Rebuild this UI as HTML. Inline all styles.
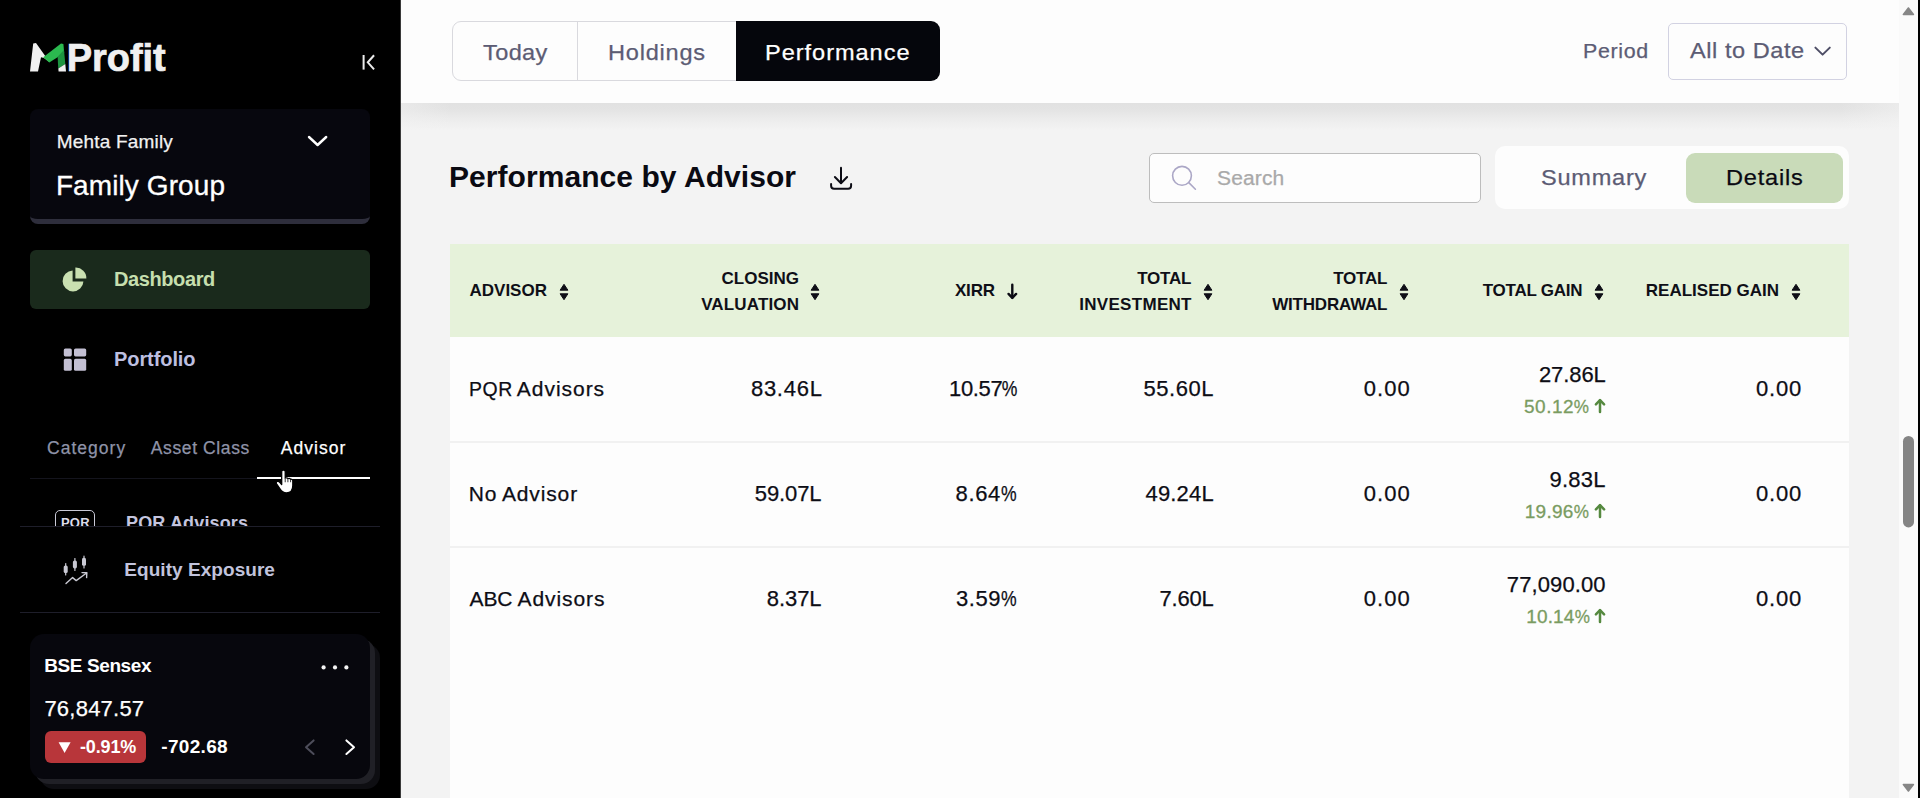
<!DOCTYPE html>
<html lang="en">
<head>
<meta charset="utf-8">
<title>MProfit - Performance by Advisor</title>
<style>
*{box-sizing:border-box;margin:0;padding:0}
html,body{width:1920px;height:798px;overflow:hidden;background:#f3f3f3}
body{font-family:"Liberation Sans",sans-serif;position:relative;color:#0b0b12}
.abs{position:absolute}
.t{position:absolute;white-space:nowrap;line-height:1}
.r{text-align:right}
.th{font-size:17px;font-weight:700;color:#0f0f17}
.td{font-size:21px;color:#0d0d15;-webkit-text-stroke:.25px #0d0d15}
.pc{font-size:19px;color:#7a9c61;-webkit-text-stroke:.3px #7a9c61}
.ps{display:inline-block;transform:scaleX(.8);transform-origin:100% 50%;margin-left:-3.9px}
.pp{display:inline-block;transform:scaleX(.9);transform-origin:100% 50%;margin-left:-1.7px}
.nm{font-size:22px}
/* ---------- sidebar ---------- */
#side{position:absolute;left:0;top:0;width:401px;height:798px;background:#000;border-right:1px solid #3a3a3a;overflow:hidden}
#main{position:absolute;left:0;top:0;width:1899px;height:798px;background:#f3f3f3;overflow:hidden}
#hdr{position:absolute;left:401px;top:0;width:1498px;height:103px;background:#fdfdfd}
#sb{position:absolute;left:1899px;top:0;width:19px;height:798px;background:#fafafa}
#edge{position:absolute;left:1918px;top:0;width:2px;height:798px;background:#000}
</style>
</head>
<body>
<div id="main">
<div id="hdr"></div>
<div class="abs" style="left:401px;top:103px;width:1498px;height:27px;background:linear-gradient(#e1e1e1 0,#e3e3e3 22%,#ececec 60%,#f3f3f3 100%)"></div>
<div class="abs" style="left:401px;top:103px;width:50px;height:27px;background:linear-gradient(90deg,rgba(243,243,243,.45),rgba(243,243,243,0))"></div>
<div class="abs" style="left:1840px;top:103px;width:59px;height:27px;background:linear-gradient(90deg,rgba(243,243,243,0),rgba(243,243,243,.55))"></div>
<!-- tab group -->
<div class="abs" style="left:452px;top:21px;width:300px;height:60px;border:1px solid #d9d9de;border-radius:9px 0 0 9px;background:#fdfdfd"></div>
<div class="abs" style="left:577px;top:22px;width:1px;height:58px;background:#d9d9de"></div>
<div class="abs" style="left:736px;top:21px;width:204px;height:60px;background:#05060c;border-radius:0 9px 9px 0"></div>
<div class="t" id="today" style="left:482.6px;top:42px;font-size:22px;color:#5c5c74;letter-spacing:0.36px;transform:scaleX(1.07);transform-origin:0 0;-webkit-text-stroke:.25px #5c5c74">Today</div>
<div class="t" id="hold" style="left:608.1px;top:42px;font-size:22px;color:#5c5c74;letter-spacing:0.73px;transform:scaleX(1.07);transform-origin:0 0;-webkit-text-stroke:.25px #5c5c74">Holdings</div>
<div class="t" id="perf" style="left:764.7px;top:42px;font-size:22px;color:#fff;letter-spacing:0.91px;transform:scaleX(1.07);transform-origin:0 0;-webkit-text-stroke:.25px #fff">Performance</div>
<!-- period -->
<div class="t" id="period" style="left:1582.5px;top:41px;font-size:20px;color:#5c5c74;letter-spacing:0.61px;transform:scaleX(1.07);transform-origin:0 0;-webkit-text-stroke:.25px #5c5c74">Period</div>
<div class="abs" style="left:1668px;top:23px;width:179px;height:57px;border:1px solid #d2d2e2;border-radius:5px;background:#fdfdfd"></div>
<div class="t" id="atd" style="left:1689.8px;top:40px;font-size:22px;color:#5c5c74;letter-spacing:0.51px;transform:scaleX(1.07);transform-origin:0 0;-webkit-text-stroke:.25px #5c5c74">All to Date</div>
<svg class="abs" style="left:1810px;top:42px" width="26" height="18" viewBox="1810 42 26 18" fill="none" stroke="#4e4e66" stroke-width="2" stroke-linecap="round" stroke-linejoin="round"><path d="M1815.4 47.6 L1822.6 54.6 L1829.8 47.6"/></svg>
<!-- title -->
<div class="t" id="title" style="left:448.9px;top:162px;font-size:30px;font-weight:700;color:#0a0a12;letter-spacing:0.07px">Performance by Advisor</div>
<svg class="abs" style="left:826px;top:164px" width="30" height="30" viewBox="826 164 30 30" fill="none" stroke="#0c0c14" stroke-width="2" stroke-linecap="round" stroke-linejoin="round">
  <path d="M841 167.8 V183"/><path d="M834.9 177 L841 183.2 L847.1 177"/><path d="M831.1 184 V185.8 Q831.1 188.8 834.1 188.8 H848.1 Q851.1 188.8 851.1 185.8 V184"/>
</svg>
<!-- search -->
<div class="abs" style="left:1149px;top:153px;width:332px;height:50px;border:1px solid #bdbdbd;border-radius:5px;background:#fdfdfd"></div>
<svg class="abs" style="left:1168px;top:162px" width="32" height="32" viewBox="1168 162 32 32" fill="none" stroke="#aba7c6" stroke-width="1.6" stroke-linecap="round"><circle cx="1182" cy="175.8" r="9.4"/><path d="M1188.8 182.6 L1195.4 189.2"/></svg>
<div class="t" id="search" style="left:1217.3px;top:168px;font-size:20px;color:#a9a9a9;letter-spacing:0.13px;transform:scaleX(1.05);transform-origin:0 0;-webkit-text-stroke:.25px #a9a9a9">Search</div>
<!-- toggle -->
<div class="abs" style="left:1495px;top:146px;width:354px;height:63px;background:#fdfdfd;border-radius:10px"></div>
<div class="abs" style="left:1686px;top:153px;width:157px;height:50px;background:#c9dbb9;border-radius:9px"></div>
<div class="t" id="summ" style="left:1540.7px;top:167px;font-size:22px;color:#5c5c74;letter-spacing:0.72px;transform:scaleX(1.07);transform-origin:0 0;-webkit-text-stroke:.25px #5c5c74">Summary</div>
<div class="t" id="det" style="left:1725.5px;top:167px;font-size:22px;color:#0a0a12;letter-spacing:0.76px;transform:scaleX(1.07);transform-origin:0 0;-webkit-text-stroke:.25px #0a0a12">Details</div>
<!-- table -->
<div class="abs" style="left:450px;top:244px;width:1399px;height:560px;background:#fdfdfd"></div>
<div class="abs" style="left:450px;top:244px;width:1399px;height:93px;background:#e6f2da"></div>
<div class="abs" style="left:450px;top:441px;width:1399px;height:2px;background:#f1f1f1"></div>
<div class="abs" style="left:450px;top:546px;width:1399px;height:2px;background:#f1f1f1"></div>
<div class="t th" id="hAdv" style="left:469.5px;top:282px;letter-spacing:0px">ADVISOR</div>
<svg class="abs" style="left:555.5px;top:279.7px" width="16" height="24" viewBox="555.5 279.7 16 24" fill="#0f0f17" stroke="#0f0f17" stroke-width="1" stroke-linejoin="round"><path d="M563.5 284.0 L567.4 289.9 L559.6 289.9 Z"/><path d="M563.5 299.4 L567.4 293.5 L559.6 293.5 Z"/></svg>
<div class="t th r" id="hClo" style="left:539px;width:260px;top:270px;letter-spacing:0px">CLOSING</div>
<div class="t th r" id="hVal" style="left:539.15px;width:260px;top:296px;letter-spacing:0.15px">VALUATION</div>
<svg class="abs" style="left:807.4px;top:279.7px" width="16" height="24" viewBox="807.4 279.7 16 24" fill="#0f0f17" stroke="#0f0f17" stroke-width="1" stroke-linejoin="round"><path d="M815.4 284.0 L819.3 289.9 L811.5 289.9 Z"/><path d="M815.4 299.4 L819.3 293.5 L811.5 293.5 Z"/></svg>
<div class="t th r" id="hXirr" style="left:734.8px;width:260px;top:282px;letter-spacing:-0.2px">XIRR</div>
<svg class="abs" style="left:1003px;top:280px" width="20" height="24" viewBox="1003 280 20 24" fill="none" stroke="#0c0c14" stroke-width="2.4" stroke-linecap="round" stroke-linejoin="round"><path d="M1012.3 284.8 V297.6"/><path d="M1008.5 293.9 L1012.3 297.9 L1016.1 293.9"/></svg>
<div class="t th r" id="hTot1" style="left:931.3px;width:260px;top:270px;letter-spacing:-0.2px">TOTAL</div>
<div class="t th r" id="hInv" style="left:931.8px;width:260px;top:296px;letter-spacing:0.3px">INVESTMENT</div>
<svg class="abs" style="left:1199.7px;top:279.7px" width="16" height="24" viewBox="1199.7 279.7 16 24" fill="#0f0f17" stroke="#0f0f17" stroke-width="1" stroke-linejoin="round"><path d="M1207.7 284.0 L1211.6 289.9 L1203.8 289.9 Z"/><path d="M1207.7 299.4 L1211.6 293.5 L1203.8 293.5 Z"/></svg>
<div class="t th r" id="hTot2" style="left:1127.3px;width:260px;top:270px;letter-spacing:-0.2px">TOTAL</div>
<div class="t th r" id="hWit" style="left:1127.3px;width:260px;top:296px;letter-spacing:-0.2px">WITHDRAWAL</div>
<svg class="abs" style="left:1395.6px;top:279.7px" width="16" height="24" viewBox="1395.6 279.7 16 24" fill="#0f0f17" stroke="#0f0f17" stroke-width="1" stroke-linejoin="round"><path d="M1403.6 284.0 L1407.5 289.9 L1399.7 289.9 Z"/><path d="M1403.6 299.4 L1407.5 293.5 L1399.7 293.5 Z"/></svg>
<div class="t th r" id="hTG" style="left:1322.25px;width:260px;top:282px;letter-spacing:-0.25px">TOTAL GAIN</div>
<svg class="abs" style="left:1591.3px;top:279.7px" width="16" height="24" viewBox="1591.3 279.7 16 24" fill="#0f0f17" stroke="#0f0f17" stroke-width="1" stroke-linejoin="round"><path d="M1599.3 284.0 L1603.2 289.9 L1595.4 289.9 Z"/><path d="M1599.3 299.4 L1603.2 293.5 L1595.4 293.5 Z"/></svg>
<div class="t th r" id="hRG" style="left:1519px;width:260px;top:282px;letter-spacing:0px">REALISED GAIN</div>
<svg class="abs" style="left:1787.9px;top:279.7px" width="16" height="24" viewBox="1787.9 279.7 16 24" fill="#0f0f17" stroke="#0f0f17" stroke-width="1" stroke-linejoin="round"><path d="M1795.9 284.0 L1799.8 289.9 L1792.0 289.9 Z"/><path d="M1795.9 299.4 L1799.8 293.5 L1792.0 293.5 Z"/></svg>
<div class="t td" id="r0w0" style="left:468.9px;top:378px;letter-spacing:0.69px;font-size:21px;transform:scaleX(0.925);transform-origin:0 0">PQR</div>
<div class="t td" id="r0w1" style="left:516.8px;top:378px;letter-spacing:0.97px;font-size:21px">Advisors</div>
<div class="t td nm r" id="r0c1" style="left:622.6px;width:200px;top:378px;letter-spacing:0.73px">83.46L</div>
<div class="t td nm r" id="r0c2" style="left:817.6px;width:200px;top:378px;letter-spacing:-0.37px">10.57<span class="ps">%</span></div>
<div class="t td nm r" id="r0c3" style="left:1014.2px;width:200px;top:378px;letter-spacing:0.57px">55.60L</div>
<div class="t td nm r" id="r0c4" style="left:1210.9px;width:200px;top:378px;letter-spacing:1.1px">0.00</div>
<div class="t td nm r" id="r0c5" style="left:1405.7px;width:200px;top:364px;letter-spacing:-0.09px">27.86L</div>
<div class="t pc r" id="r0c6" style="left:1389.7px;width:200px;top:397px;letter-spacing:0.48px">50.12<span class="pp">%</span></div>
<svg class="abs" style="left:1591.8px;top:397px" width="16" height="20" viewBox="1591.8 397 16 20" fill="none" stroke="#55893f" stroke-width="2.5" stroke-linecap="round" stroke-linejoin="round"><path d="M1599.8 400.2 V411.9"/><path d="M1595.7 404.4 L1599.8 400.2 L1603.8999999999999 404.4"/></svg>
<div class="t td nm r" id="r0c7" style="left:1602.2px;width:200px;top:378px;letter-spacing:0.86px">0.00</div>
<div class="t td" id="r1w0" style="left:468.7px;top:483px;letter-spacing:0.93px;font-size:21px">No</div>
<div class="t td" id="r1w1" style="left:501.9px;top:483px;letter-spacing:0.87px;font-size:21px">Advisor</div>
<div class="t td nm r" id="r1c1" style="left:621.4px;width:200px;top:483px;letter-spacing:-0.12px">59.07L</div>
<div class="t td nm r" id="r1c2" style="left:817.3px;width:200px;top:483px;letter-spacing:0.66px">8.64<span class="ps">%</span></div>
<div class="t td nm r" id="r1c3" style="left:1013.8px;width:200px;top:483px;letter-spacing:0.17px">49.24L</div>
<div class="t td nm r" id="r1c4" style="left:1210.9px;width:200px;top:483px;letter-spacing:1.1px">0.00</div>
<div class="t td nm r" id="r1c5" style="left:1405.9px;width:200px;top:469px;letter-spacing:0.28px">9.83L</div>
<div class="t pc r" id="r1c6" style="left:1389.2px;width:200px;top:502px;letter-spacing:0.28px">19.96<span class="pp">%</span></div>
<svg class="abs" style="left:1591.8px;top:502px" width="16" height="20" viewBox="1591.8 502 16 20" fill="none" stroke="#55893f" stroke-width="2.5" stroke-linecap="round" stroke-linejoin="round"><path d="M1599.8 505.2 V516.9"/><path d="M1595.7 509.4 L1599.8 505.2 L1603.8999999999999 509.4"/></svg>
<div class="t td nm r" id="r1c7" style="left:1602.2px;width:200px;top:483px;letter-spacing:0.86px">0.00</div>
<div class="t td" id="r2w0" style="left:469.6px;top:588px;letter-spacing:-0.16px;font-size:21px">ABC</div>
<div class="t td" id="r2w1" style="left:517.5px;top:588px;letter-spacing:0.92px;font-size:21px">Advisors</div>
<div class="t td nm r" id="r2c1" style="left:621.5px;width:200px;top:588px;letter-spacing:-0.08px">8.37L</div>
<div class="t td nm r" id="r2c2" style="left:817.1px;width:200px;top:588px;letter-spacing:0.5px">3.59<span class="ps">%</span></div>
<div class="t td nm r" id="r2c3" style="left:1013.4px;width:200px;top:588px;letter-spacing:-0.24px">7.60L</div>
<div class="t td nm r" id="r2c4" style="left:1210.9px;width:200px;top:588px;letter-spacing:1.1px">0.00</div>
<div class="t td nm r" id="r2c5" style="left:1405.7px;width:200px;top:574px;letter-spacing:0.11px">77,090.00</div>
<div class="t pc r" id="r2c6" style="left:1389.9px;width:200px;top:607px;letter-spacing:0.15px">10.14<span class="pp">%</span></div>
<svg class="abs" style="left:1591.8px;top:607px" width="16" height="20" viewBox="1591.8 607 16 20" fill="none" stroke="#55893f" stroke-width="2.5" stroke-linecap="round" stroke-linejoin="round"><path d="M1599.8 610.2 V621.9"/><path d="M1595.7 614.4 L1599.8 610.2 L1603.8999999999999 614.4"/></svg>
<div class="t td nm r" id="r2c7" style="left:1602.2px;width:200px;top:588px;letter-spacing:0.86px">0.00</div>

</div>
<div id="side">
<!-- logo -->
<svg class="abs" style="left:28px;top:40px" width="42" height="36" viewBox="28 40 42 36">
  <polygon points="30,71.6 33.2,43.4 36,43 49.5,62 44,58 41,57.2 38,71.6" fill="#f0f0f0"/>
  <polygon points="43.2,57.2 61,43.4 63.4,44 64.2,53 49.3,62.6" fill="#2bb94f"/>
  <polygon points="57.6,56.8 64,50 65.3,64 58.3,68.6" fill="#1d9440"/>
  <polygon points="58.3,68.6 65.3,64 66,71.6 58.6,71.6" fill="#f0f0f0"/>
</svg>
<div class="t" id="logoT" style="left:66.8px;top:38px;font-size:38px;font-weight:700;color:#f0f0f0;letter-spacing:-.05px;-webkit-text-stroke:.7px #f0f0f0;transform:scaleY(1.045);transform-origin:0 0">Profit</div>
<!-- collapse icon -->
<svg class="abs" style="left:358px;top:52px" width="20" height="20" viewBox="358 52 20 20" fill="none" stroke="#ececec" stroke-width="2" stroke-linecap="square">
  <path d="M363.6 56 V68.6"/><path d="M373.4 56 L367.8 62.3 L373.4 68.6" stroke-linejoin="miter"/>
</svg>
<!-- family box -->
<div class="abs" style="left:30px;top:109px;width:340px;height:115px;background:#07070e;border-radius:8px;border-bottom:5px solid #2e2e3c"></div>
<div class="t" id="mehta" style="left:56.7px;top:132px;font-size:19px;color:#f2f2f2;-webkit-text-stroke:.25px #f2f2f2;letter-spacing:0.19px">Mehta Family</div>
<div class="t" id="fgroup" style="left:55.9px;top:172px;font-size:28px;color:#fff;-webkit-text-stroke:.3px #fff;letter-spacing:0.1px">Family Group</div>
<svg class="abs" style="left:304px;top:130px" width="28" height="22" viewBox="304 130 28 22" fill="none" stroke="#fff" stroke-width="2.4" stroke-linecap="round" stroke-linejoin="round"><path d="M309 137 L317.6 145 L326.2 137"/></svg>
<!-- dashboard -->
<div class="abs" style="left:30px;top:250px;width:340px;height:59px;background:#1a2a1c;border-radius:6px"></div>
<svg class="abs" style="left:60px;top:265px" width="30" height="30" viewBox="60 265 30 30">
  <path d="M72.6 270.6 A10.4 10.4 0 1 0 83.4 281.4 L72.6 281.4 Z" fill="#c9e0b1"/>
  <path d="M75.4 267.6 A10.6 10.6 0 0 1 86.4 278.6 L75.4 278.6 Z" fill="#c9e0b1"/>
</svg>
<div class="t" id="dash" style="left:114.0px;top:269px;font-size:20px;font-weight:700;color:#c6dfae;letter-spacing:-0.4px">Dashboard</div>
<!-- portfolio -->
<svg class="abs" style="left:62px;top:346px" width="26" height="26" viewBox="62 346 26 26" fill="#c3c0d3">
  <rect x="63.8" y="348.4" width="8" height="8" rx="1.6"/>
  <rect x="74" y="348.4" width="12.2" height="8" rx="1.6"/>
  <rect x="63.8" y="358.8" width="8" height="12" rx="1.6"/>
  <rect x="74" y="358.8" width="12.2" height="12" rx="1.6"/>
</svg>
<div class="t" id="portf" style="left:114.0px;top:349px;font-size:20px;font-weight:700;color:#bdbfe0;letter-spacing:-0.08px">Portfolio</div>
<!-- tabs -->
<div class="t" id="tcat" style="left:47.1px;top:440px;font-size:17.5px;color:#8f93a8;letter-spacing:1.01px;-webkit-text-stroke:.25px #8f93a8">Category</div>
<div class="t" id="tasset" style="left:150.8px;top:440px;font-size:17.5px;color:#8f93a8;letter-spacing:0.61px;-webkit-text-stroke:.25px #8f93a8">Asset Class</div>
<div class="t" id="tadv" style="left:280.8px;top:440px;font-size:17.5px;color:#fff;letter-spacing:1.03px;-webkit-text-stroke:.25px #fff">Advisor</div>
<div class="abs" style="left:30px;top:478px;width:227px;height:1px;background:#14141d"></div>
<div class="abs" style="left:257px;top:477px;width:113px;height:2px;background:#fff"></div>
<!-- PQR clipped row -->
<div class="abs" style="left:20px;top:500px;width:360px;height:26px;overflow:hidden">
  <div class="abs" style="left:35px;top:10px;width:40px;height:30px;border:1px solid #c9c9d6;border-radius:5px"></div>
  <div class="t" id="pqrb" style="left:41px;top:16px;font-size:13px;font-weight:700;color:#dcdcea;letter-spacing:.2px">PQR</div>
  <div class="t" id="pqra" style="left:106px;top:14px;font-size:18px;font-weight:700;color:#c4c5df;letter-spacing:.15px">PQR Advisors</div>
</div>
<div class="abs" style="left:20px;top:526px;width:360px;height:1px;background:#1e1e2a"></div>
<!-- equity exposure -->
<svg class="abs" style="left:60px;top:554px" width="32" height="34" viewBox="60 554 32 34" fill="none" stroke="#c9c9d3" stroke-linecap="round" stroke-linejoin="round">
  <g stroke-width="1.2"><path d="M65.7 563.6V575"/><path d="M74.9 558.6V570.4"/><path d="M84 556V568"/></g>
  <g fill="#c9c9d3" stroke="none"><rect x="63.7" y="565.4" width="4" height="7.6" rx="1.6"/><rect x="72.9" y="560.4" width="4" height="8" rx="1.6"/><rect x="82" y="557.8" width="4" height="8" rx="1.6"/></g>
  <path d="M66 583.6 L72.6 577.6 L76.2 580.6 L86.6 573" stroke-width="1.4"/>
  <path d="M82 572.6 L86.8 572.8 L86.6 577.6" stroke-width="1.4"/>
</svg>
<div class="t" id="eqexp" style="left:124.3px;top:560px;font-size:19px;font-weight:700;color:#c1c3dc;letter-spacing:0.05px">Equity Exposure</div>
<div class="abs" style="left:20px;top:612px;width:360px;height:1px;background:#1e1e2a"></div>
<!-- sensex card -->
<div class="abs" style="left:40px;top:644px;width:340px;height:145px;background:#0e0e12;border-radius:14px"></div>
<div class="abs" style="left:35px;top:639px;width:340px;height:145px;background:#202026;border-radius:14px"></div>
<div class="abs" style="left:30px;top:634px;width:340px;height:145px;background:#07070d;border-radius:14px"></div>
<div class="t" id="bse" style="left:44.3px;top:656px;font-size:19px;font-weight:700;color:#fff;letter-spacing:-0.41px">BSE Sensex</div>
<svg class="abs" style="left:318px;top:660px" width="36" height="14" viewBox="318 660 36 14" fill="#f4f4f4"><circle cx="323.6" cy="667.4" r="2.1"/><circle cx="335" cy="667.4" r="2.1"/><circle cx="346.4" cy="667.4" r="2.1"/></svg>
<div class="t" id="sval" style="left:44.4px;top:698px;font-size:22px;color:#fff;letter-spacing:0.23px;-webkit-text-stroke:.25px #fff">76,847.57</div>
<div class="abs" style="left:45px;top:731px;width:101px;height:32px;background:#b8363a;border-radius:6px"></div>
<svg class="abs" style="left:56px;top:740px" width="16" height="14" viewBox="56 740 16 14"><polygon points="58.6,742.2 70.6,742.2 64.6,753" fill="#fff"/></svg>
<div class="t" id="spct" style="left:80.0px;top:738px;font-size:18px;font-weight:700;color:#fff;letter-spacing:-0.14px">-0.91%</div>
<div class="t" id="schg" style="left:161.3px;top:737px;font-size:19px;font-weight:700;color:#fff;letter-spacing:0.32px">-702.68</div>
<svg class="abs" style="left:298px;top:734px" width="64" height="26" viewBox="298 734 64 26" fill="none" stroke-width="2" stroke-linecap="round" stroke-linejoin="round">
  <path d="M313.6 740.4 L306 747.2 L313.6 754" stroke="#4d4d5a"/>
  <path d="M346.4 740.4 L354 747.2 L346.4 754" stroke="#fff"/>
</svg>
<!-- hand cursor -->
<svg class="abs" style="left:273.6px;top:469px" width="23.5" height="26.6" viewBox="0 0 22 26" preserveAspectRatio="none">
  <path d="M7.2 2.6 C7.2 1.6 8 1 8.9 1 C9.8 1 10.5 1.7 10.5 2.6 V9 C10.9 8.5 12.6 8.4 13 9.4 C13.6 8.9 15.2 9 15.5 10.1 C16.3 9.8 17.6 10.2 17.6 11.6 V16.2 C17.6 20.4 15.4 23.4 11.6 23.4 C8.6 23.4 7.2 22 5.6 19.4 L2.4 14.4 C1.8 13.4 2.2 12.6 3 12.2 C3.9 11.8 4.8 12.2 5.6 13.2 L7.2 15.2 Z" fill="#fff" stroke="#000" stroke-width="1.2" stroke-linejoin="round"/>
  <path d="M10.5 9 V13 M13 9.6 V13 M15.5 10.4 V13" stroke="#444" stroke-width="1" fill="none"/>
</svg>

</div>
<div id="sb">
<svg class="abs" style="left:0;top:0" width="19" height="798" viewBox="1899 0 19 798" fill="#868686" stroke="#868686" stroke-width="1.6" stroke-linejoin="round">
  <path d="M1908.4 8 L1913.4 14.4 L1903.4 14.4 Z"/>
  <rect x="1903" y="436" width="11" height="91.4" rx="5.5" stroke="none" fill="#848484"/>
  <path d="M1908.4 791 L1913.4 784.6 L1903.4 784.6 Z"/>
</svg>

</div>
<div id="edge"></div>
</body>
</html>
